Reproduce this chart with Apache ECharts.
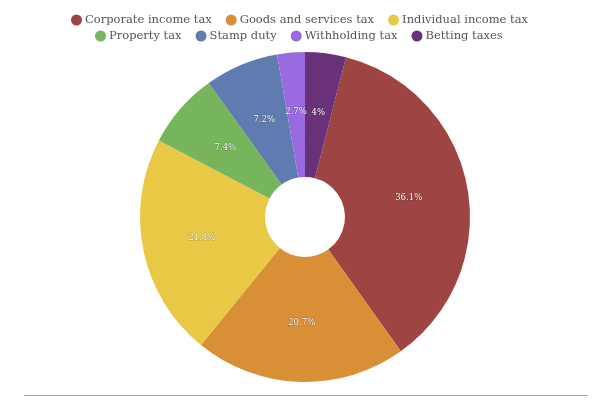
<!DOCTYPE html>
<html>
<head>
<meta charset="utf-8">
<script src="https://cdn.jsdelivr.net/npm/echarts@6/dist/echarts.min.js"></script>
<style>
  html, body { margin: 0; padding: 0; background: #fff; }
  #chart1 { width: 600px; height: 400px; }
</style>
</head>
<body>
<div id="chart1"></div>
<script>
// 税种名称
let categories = ['Corporate income tax', 'Goods and services tax', 'Individual income tax',
    'Property tax', 'Stamp duty', 'Withholding tax', 'Betting taxes'];

// 百分比
let values = [36.1, 20.7, 21.8, 7.4, 7.2, 2.7, 4];

// 颜色
let color = ['#9e4544', '#d98f35', '#e9c846', '#77b55d', '#5f7bb0', '#9a6ae0', '#693179'];

let chart1 = echarts.init(document.getElementById('chart1'));

let data = categories.map(function (name, i) {
    return { name: name, value: values[i] };
});

let font = '"DejaVu Serif", "Liberation Serif", serif';

// 图例分两行
function legendRow(top, left, names) {
    return {
        top: top,
        left: left,
        icon: 'circle',
        itemWidth: 11,
        itemHeight: 11,
        itemGap: 14,
        textStyle: {
            fontFamily: font,
            fontSize: 11.5,
            color: '#555',
            padding: [0, 0, 0, -2]
        },
        data: names
    };
}

let option = {
    backgroundColor: '#fff',
    color: color,
    animation: false,
    legend: [
        legendRow(9, 66, categories.slice(0, 3)),
        legendRow(25, 90, categories.slice(3))
    ],
    graphic: [{
        type: 'line',
        shape: { x1: 24, y1: 395.5, x2: 588, y2: 395.5 },
        style: { stroke: '#d4918a', lineWidth: 1 }
    }],
    series: [{
        type: 'pie',
        center: [305, 217],
        radius: [40, 165],
        startAngle: 75.6,
        clockwise: true,
        label: {
            show: true,
            position: 'inside',
            formatter: '{c}%',
            fontFamily: font,
            fontSize: 8.5,
            color: '#fff',
            textBorderColor: 'rgba(0,0,0,0.25)',
            textBorderWidth: 1
        },
        labelLine: { show: false },
        itemStyle: { borderWidth: 0 },
        emphasis: { scale: false },
        data: data
    }]
};

chart1.setOption(option);
window.onresize = chart1.resize;
</script>
</body>
</html>
